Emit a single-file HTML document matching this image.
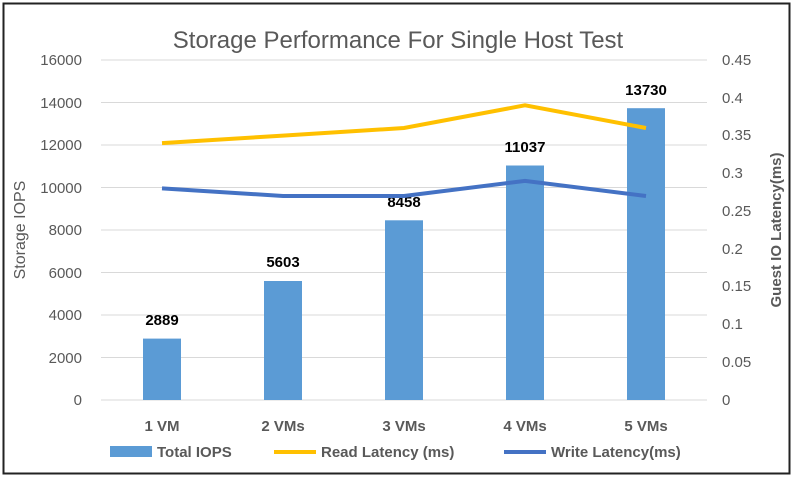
<!DOCTYPE html>
<html><head><style>
body{margin:0;background:#fff;}
svg{display:block;font-family:"Liberation Sans",sans-serif;}
</style></head><body>
<svg width="794" height="478" viewBox="0 0 794 478">
<rect x="3.5" y="3.5" width="786" height="470" fill="#fff" stroke="#222" stroke-width="2"/>
<text x="398" y="48" font-size="24" fill="#595959" text-anchor="middle">Storage Performance For Single Host Test</text>
<g stroke="#d9d9d9" stroke-width="1">
<line x1="101" x2="707" y1="60" y2="60"/><line x1="101" x2="707" y1="102.5" y2="102.5"/>
<line x1="101" x2="707" y1="145" y2="145"/><line x1="101" x2="707" y1="187.5" y2="187.5"/>
<line x1="101" x2="707" y1="230" y2="230"/><line x1="101" x2="707" y1="272.5" y2="272.5"/>
<line x1="101" x2="707" y1="315" y2="315"/><line x1="101" x2="707" y1="357.5" y2="357.5"/>
<line x1="101" x2="707" y1="400" y2="400"/>
</g>
<g font-size="15" fill="#595959" text-anchor="end">
<text x="82" y="65">16000</text><text x="82" y="108">14000</text><text x="82" y="150">12000</text>
<text x="82" y="193">10000</text><text x="82" y="235">8000</text><text x="82" y="278">6000</text>
<text x="82" y="320">4000</text><text x="82" y="363">2000</text><text x="82" y="405">0</text>
</g>
<g font-size="15" fill="#595959" text-anchor="start">
<text x="722" y="65">0.45</text><text x="722" y="103">0.4</text><text x="722" y="140">0.35</text>
<text x="722" y="178">0.3</text><text x="722" y="216">0.25</text><text x="722" y="254">0.2</text>
<text x="722" y="291">0.15</text><text x="722" y="329">0.1</text><text x="722" y="367">0.05</text>
<text x="722" y="405">0</text>
</g>
<text transform="translate(25,230) rotate(-90)" font-size="16" fill="#595959" text-anchor="middle">Storage IOPS</text>
<text transform="translate(781,230) rotate(-90)" font-size="15" font-weight="bold" fill="#595959" text-anchor="middle">Guest IO Latency(ms)</text>
<g fill="#5b9bd5">
<rect x="143" y="338.6" width="38" height="61.4"/>
<rect x="264" y="281" width="38" height="119"/>
<rect x="385" y="220.3" width="38" height="179.7"/>
<rect x="506" y="165.5" width="38" height="234.5"/>
<rect x="627" y="108.2" width="38" height="291.8"/>
</g>
<g font-size="15" font-weight="bold" fill="#000" text-anchor="middle">
<text x="162" y="325">2889</text><text x="283" y="267">5603</text><text x="404" y="207">8458</text>
<text x="525" y="152">11037</text><text x="646" y="95">13730</text>
</g>
<polyline points="162,143.1 283,135.6 404,128 525,105.3 646,128" fill="none" stroke="#ffc000" stroke-width="4"/>
<polyline points="162,188.4 283,196 404,196 525,180.9 646,196" fill="none" stroke="#4472c4" stroke-width="4"/>
<g font-size="15" font-weight="bold" fill="#595959" text-anchor="middle">
<text x="162" y="431">1 VM</text><text x="283" y="431">2 VMs</text><text x="404" y="431">3 VMs</text>
<text x="525" y="431">4 VMs</text><text x="646" y="431">5 VMs</text>
</g>
<g font-size="15" font-weight="bold" fill="#595959">
<rect x="110" y="446" width="42" height="11" fill="#5b9bd5"/>
<text x="157" y="457">Total IOPS</text>
<line x1="274" x2="316" y1="452" y2="452" stroke="#ffc000" stroke-width="4"/>
<text x="321" y="457">Read Latency (ms)</text>
<line x1="504" x2="546" y1="452" y2="452" stroke="#4472c4" stroke-width="4"/>
<text x="551" y="457">Write Latency(ms)</text>
</g>
</svg>
</body></html>
